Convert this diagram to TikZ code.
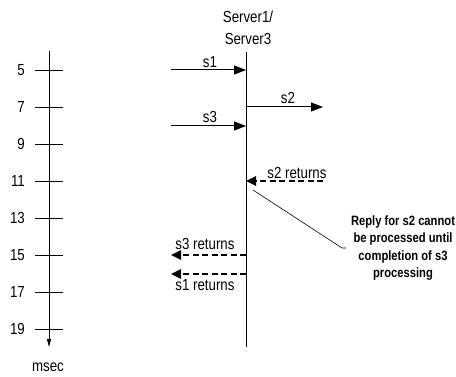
\documentclass[tikz,border=0pt]{standalone}
\usepackage{fontspec}
\setmainfont{Liberation Sans}[FakeStretch=0.83]
\usetikzlibrary{arrows.meta}
\begin{document}
\begin{tikzpicture}[x=1pt,y=-1pt,
  lbl/.style={font=\fontsize{16}{21.5}\selectfont, inner sep=0pt, align=center},
  note/.style={font=\bfseries\fontsize{13.5}{17.5}\selectfont, align=center, inner sep=0pt},
  call/.style={line width=1pt, -{Triangle[length=12pt,width=9pt]}},
  ret/.style={line width=2.4pt, dash pattern=on 6pt off 3.5pt, -{Triangle[length=10pt,width=9pt]}},
  tickmark/.style={line width=0.9pt},
  life/.style={line width=1pt}]
\useasboundingbox (0,0) rectangle (456,377);

% time axis with ticks every 2 msec
\coordinate (ttop) at (49,51);
\coordinate (tbot) at (49,347);
\draw[life, -{Triangle[length=8pt,width=4pt]}] (ttop) -- (tbot);
\foreach \t in {5,7,...,19} {
  \pgfmathsetmacro{\yy}{70+18.5*(\t-5)}
  \node[lbl, anchor=east] (tlab\t) at (25,\yy) {\t};
  \coordinate (tl\t) at (35,\yy);
  \coordinate (tr\t) at (63,\yy);
  \draw[tickmark] (tl\t) -- (tr\t);
}
\node[lbl] (unit) at (48,367) {msec};

% server lifeline
\node[lbl] (srv) at (248,28) {Server1/\\Server3};
\coordinate (stop) at (246,52);
\coordinate (sbot) at (246,347);
\draw[life] (stop) -- (sbot);

% requests
\coordinate (s1a) at (171,70);  \coordinate (s1b) at (246,70);
\coordinate (s3a) at (171,126); \coordinate (s3b) at (246,126);
\coordinate (s2a) at (246,107); \coordinate (s2b) at (323,107);
\draw[call] (s1a) -- (s1b);
\draw[call] (s3a) -- (s3b);
\draw[call] (s2a) -- (s2b);
\node[lbl] (s1l) at (210,62) {s1};
\node[lbl] (s3l) at (210,117) {s3};
\node[lbl] (s2l) at (288,98) {s2};

% returns
\coordinate (r2a) at (323,181); \coordinate (r2b) at (246,181);
\coordinate (r3a) at (246,255); \coordinate (r3b) at (171,255);
\coordinate (r1a) at (246,274); \coordinate (r1b) at (171,274);
\draw[ret] (r2a) -- (r2b);
\draw[ret] (r3a) -- (r3b);
\draw[ret] (r1a) -- (r1b);
\node[lbl] (r2l) at (297,173) {s2 returns};
\node[lbl] (r3l) at (205,244) {s3 returns};
\node[lbl] (r1l) at (205,285) {s1 returns};

% annotation
\node[note] (nt) at (403,248) {Reply for s2 cannot\\be processed until\\completion of s3\\processing};
\coordinate (n1) at (253,190);
\coordinate (n2) at (342,248);
\coordinate (n3) at (346,248);
\draw[line width=0.6pt] (n1) -- (n2) -- (n3);
\end{tikzpicture}
\end{document}
